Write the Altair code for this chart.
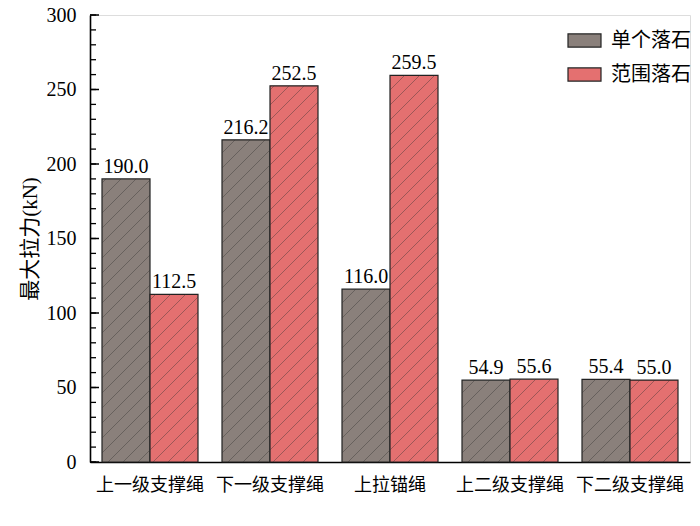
import altair as alt
import pandas as pd

categories = ["上一级支撑绳", "下一级支撑绳", "上拉锚绳", "上二级支撑绳", "下二级支撑绳"]
series = ["单个落石", "范围落石"]
single_vals = [190.0, 216.2, 116.0, 54.9, 55.4]
range_vals = [112.5, 252.5, 259.5, 55.6, 55.0]
y_ticks = [0, 50, 100, 150, 200, 250, 300]
minor_ticks = list(range(0, 301, 10))

colors = ["#8a807b", "#e47070"]

rows = []
for i, c in enumerate(categories):
    rows.append({"cat": c, "series": series[0], "val": single_vals[i], "i": i, "s": 0})
    rows.append({"cat": c, "series": series[1], "val": range_vals[i], "i": i, "s": 1})
df = pd.DataFrame(rows)

# plot geometry (styling only)
W, H, YMAX = 600, 447, 300
STEP = W / len(categories)
PAD_OUT = 0.1 * STEP
BAND = (STEP * 0.8) / 2
SP = 15  # hatch spacing (px)

# derived hatch segments computed from the bar values, expressed in data units
hatch = []
for r in rows:
    ua = r["i"] * STEP + PAD_OUT + r["s"] * BAND
    ub = ua + BAND
    vt = r["val"] * H / YMAX
    c = -H
    while c < W:
        u0 = max(ua, c)
        u1 = min(ub, c + vt)
        if u1 > u0:
            hatch.append({"x": u0 / STEP, "x2": u1 / STEP,
                          "y": (u0 - c) * YMAX / H, "y2": (u1 - c) * YMAX / H})
        c += SP
hatch_df = pd.DataFrame(hatch)

SERIF = "Liberation Serif, Noto Sans CJK SC"
CJK = "Noto Sans CJK SC"

xscale = alt.Scale(domain=categories, paddingInner=0.2, paddingOuter=0.1)
yscale = alt.Scale(domain=[0, 300], nice=False)

base = alt.Chart(df)

bars = base.mark_bar(stroke="#222222", strokeWidth=1.2).encode(
    x=alt.X("cat:N", sort=categories, scale=xscale,
            axis=alt.Axis(title=None, labelAngle=0, ticks=False, labelPadding=14,
                          labelFont=CJK, labelFontSize=18, labelColor="black",
                          domainColor="black", domainWidth=1.6)),
    xOffset=alt.XOffset("series:N", sort=series),
    y=alt.Y("val:Q", scale=yscale,
            axis=alt.Axis(title="最大拉力(kN)", values=y_ticks, grid=False, ticks=False,
                          domainColor="black", domainWidth=1.6,
                          labelFont="Liberation Serif", labelFontSize=20, labelColor="black",
                          labelPadding=14, titleFont=SERIF, titleFontSize=21,
                          titleFontWeight="normal", titleColor="black", titlePadding=6)),
    fill=alt.Fill("series:N", sort=series,
                  scale=alt.Scale(domain=series, range=colors),
                  legend=alt.Legend(title=None, orient="none", legendX=477, legendY=8,
                                    symbolType="M-1,-0.4H1V0.4H-1Z", symbolSize=1089,
                                    symbolStrokeColor="#222222", symbolStrokeWidth=1.2,
                                    labelFont=CJK, labelFontSize=20, labelColor="black",
                                    labelOffset=9, rowPadding=6)),
)

labels = base.mark_text(baseline="bottom", dy=-2, font="Liberation Serif", fontSize=20,
                        color="black").encode(
    x=alt.X("cat:N", sort=categories, scale=xscale),
    xOffset=alt.XOffset("series:N", sort=series),
    y=alt.Y("val:Q", scale=yscale),
    text=alt.Text("val:Q", format=".1f"),
)

main = alt.layer(bars, labels)

hatch_layer = alt.Chart(hatch_df).mark_rule(color="#333333", strokeWidth=0.8, opacity=0.5).encode(
    x=alt.X("x:Q", scale=alt.Scale(domain=[0, len(categories)], nice=False, zero=False), axis=None),
    x2="x2:Q",
    y=alt.Y("y:Q", scale=yscale),
    y2="y2:Q",
)

minor = alt.Chart(pd.DataFrame({"t": minor_ticks})).mark_rule(color="black", strokeWidth=1.3).encode(
    x=alt.value(0), x2=alt.value(6),
    y=alt.Y("t:Q", scale=yscale),
)

major = alt.Chart(pd.DataFrame({"t": y_ticks})).mark_rule(color="black", strokeWidth=1.5).encode(
    x=alt.value(0), x2=alt.value(9),
    y=alt.Y("t:Q", scale=yscale),
)

chart = alt.layer(main, hatch_layer, minor, major).resolve_scale(x="independent").properties(
    width=W, height=H,
    autosize="none",
    padding={"left": 82, "top": 7, "right": 1, "bottom": 38},
).configure_view(stroke=None).configure(background="white")

chart.save("out.html", embed_options={"renderer": "svg", "actions": False})
